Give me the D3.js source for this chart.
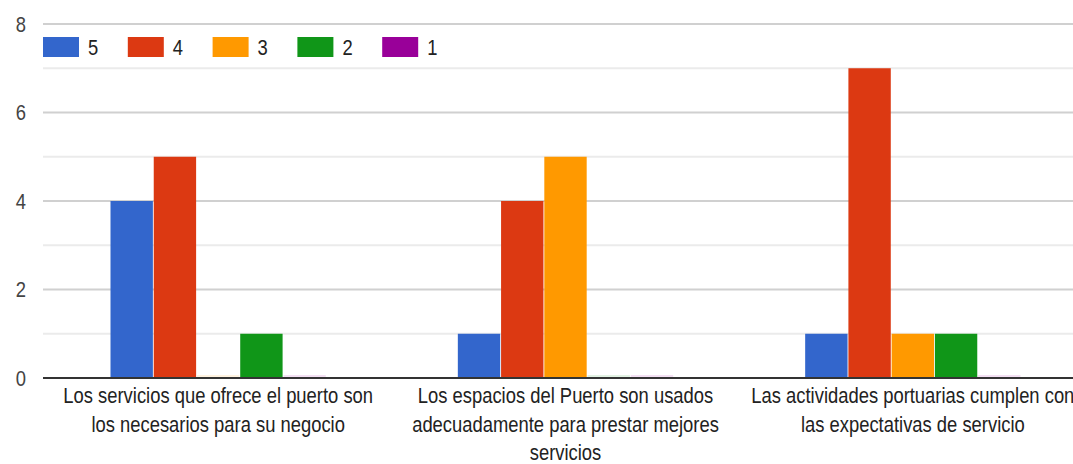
<!DOCTYPE html>
<html>
<head>
	<meta charset="utf-8">
	<title>encuesta_puerto</title>
	<script type="text/javascript" src="https://cdn.jsdelivr.net/npm/d3@7/dist/d3.min.js"></script>
	<style>
		body { margin:0; background:#fff; }
		.mytext {
			font-family: "Liberation Sans", Arial, sans-serif;
			font-size: 18.4px;
			fill: #222;
			}
		.grid_major { stroke:#d0d0d0; stroke-width:2px; }
		.grid_minor { stroke:#ebebeb; stroke-width:2px; }
		.baseline { stroke:#333; stroke-width:2px; }
	</style>
</head>
<body>
	<div id="svg_div" class="svg_div"></div>
	<script type="text/javascript">
		// datos
		var categories = [
			["Los servicios que ofrece el puerto son","los necesarios para su negocio"],
			["Los espacios del Puerto son usados","adecuadamente para prestar mejores","servicios"],
			["Las actividades portuarias cumplen con","las expectativas de servicio"]
		];
		var seriesNames = ["5","4","3","2","1"];
		var values5 = [4,1,1],
		values4 = [5,4,7],
		values3 = [0,5,1],
		values2 = [1,0,1],
		values1 = [0,0,0];
		var seriesColors = ["#3366cc","#dc3912","#ff9900","#109618","#990099"];
		var yTicks = [0,1,2,3,4,5,6,7,8],
		yLabels = [0,2,4,6,8];

		var width = 1073,
		height = 464,
		plot_left = 44.5,
		plot_right = 1086.5,
		plot_top = 24,
		plot_bottom = 378,
		textScale = 1.2;

		var allValues = [values5,values4,values3,values2,values1];

		var svg = d3.select(".svg_div").append("svg")
			.attr("width", width)
			.attr("height", height);

		var y = d3.scaleLinear().domain([0,8]).range([plot_bottom, plot_top]);
		var x0 = d3.scaleBand().domain(d3.range(categories.length)).range([plot_left, plot_right]);
		var x1 = d3.scaleBand().domain(seriesNames).range([66, x0.bandwidth()-66]).paddingInner(0.02);

		// lineas de la grilla
		svg.append("g").selectAll("line")
			.data(yTicks.filter(function(d){return d > 0}))
			.enter()
			.append("line")
			.attr("class", function(d){return d % 2 == 0 ? "grid_major" : "grid_minor"})
			.attr("x1", plot_left - 1.5)
			.attr("x2", width)
			.attr("y1", function(d){return y(d)})
			.attr("y2", function(d){return y(d)});

		svg.append("g").selectAll("g")
			.data(yLabels)
			.enter()
			.append("g")
			.attr("transform", function(d){return "translate(26," + y(d) + ") scale(1," + textScale + ")"})
			.append("text")
			.attr("class","mytext")
			.attr("text-anchor","end")
			.attr("dy","0.36em")
			.style("fill","#444")
			.text(function(d){return d});

		// barras
		var group = svg.append("g").selectAll("g")
			.data(categories)
			.enter()
			.append("g")
			.attr("transform", function(d,i){return "translate(" + x0(i) + ",0)"});

		group.selectAll("rect")
			.data(function(d,i){return seriesNames.map(function(s,j){return {s:s, v:allValues[j][i], c:seriesColors[j]}})})
			.enter()
			.append("rect")
			.attr("x", function(d){return x1(d.s)})
			.attr("width", x1.bandwidth())
			.attr("y", function(d){return d.v > 0 ? y(d.v) : plot_bottom - 3})
			.attr("height", function(d){return d.v > 0 ? plot_bottom - y(d.v) : 2})
			.attr("fill", function(d){return d.c})
			.attr("opacity", function(d){return d.v > 0 ? 1 : 0.12});

		svg.append("line")
			.attr("class","baseline")
			.attr("x1", plot_left - 1.5)
			.attr("x2", width)
			.attr("y1", plot_bottom)
			.attr("y2", plot_bottom);

		// etiquetas de categoria
		group.each(function(d,i){
			d3.select(this).selectAll(".cat_label")
				.data(d)
				.enter()
				.append("g")
				.attr("class","cat_label")
				.attr("transform", function(t,k){return "translate(" + x0.bandwidth()/2 + "," + (403 + k * 28.5) + ") scale(1," + textScale + ")"})
				.append("text")
				.attr("class","mytext")
				.attr("text-anchor","middle")
				.text(function(t){return t});
		});

		// leyenda
		var legend = svg.append("g").selectAll("g")
			.data(seriesNames)
			.enter()
			.append("g")
			.attr("transform", function(d,i){return "translate(" + (43 + i * 84.8) + ",37)"});

		legend.append("rect")
			.attr("width",36)
			.attr("height",20)
			.attr("fill", function(d,i){return seriesColors[i]});

		legend.append("g")
			.attr("transform","translate(45,10) scale(1," + textScale + ")")
			.append("text")
			.attr("class","mytext")
			.attr("dy","0.36em")
			.text(function(d){return d});
	</script>
</body>
</html>
